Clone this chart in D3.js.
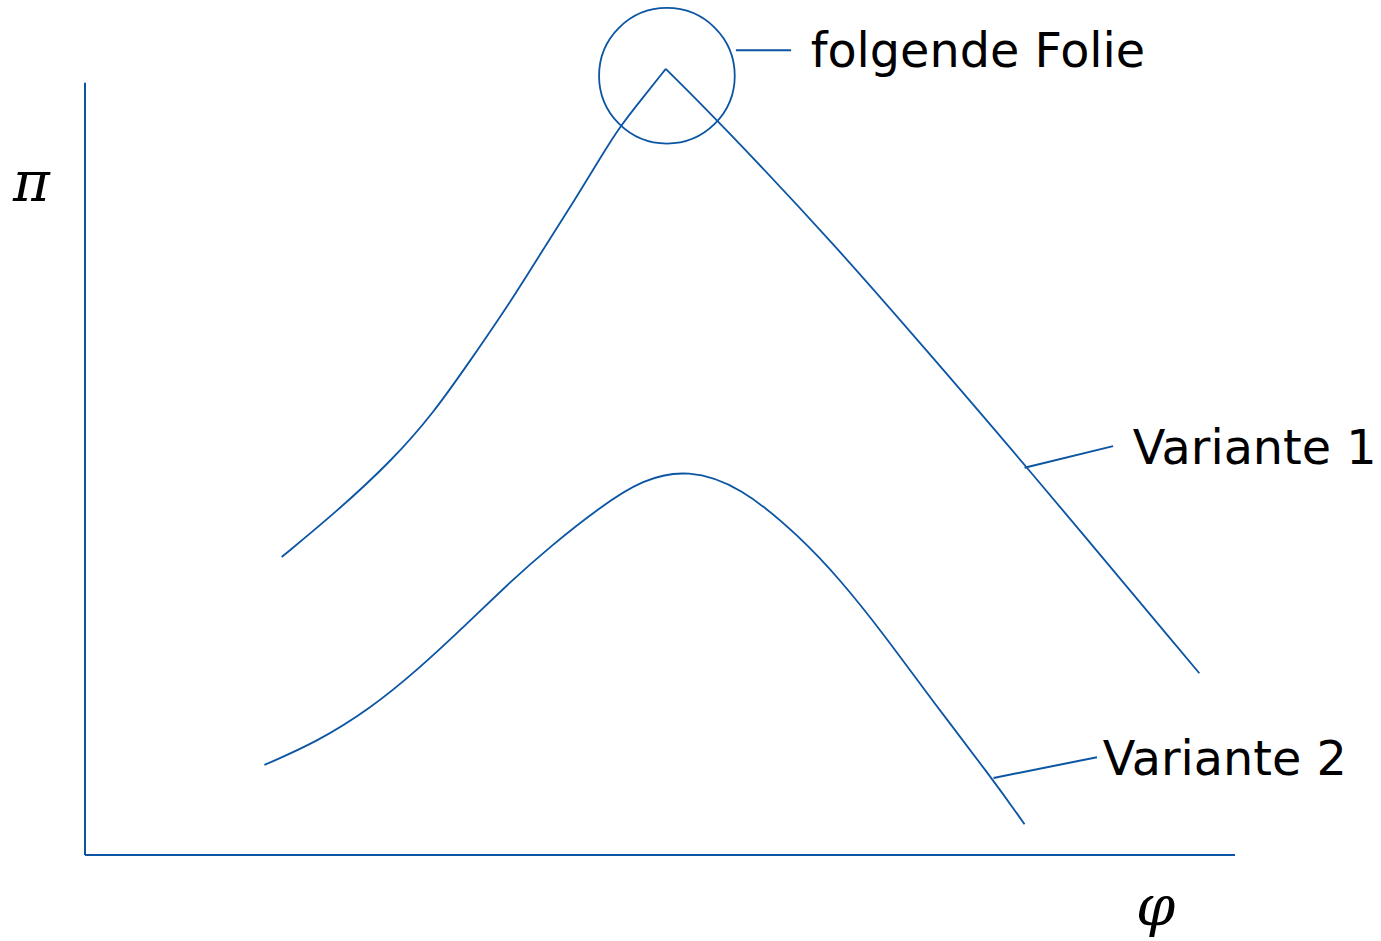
<!DOCTYPE html>
<html>
<head>
<meta charset="utf-8">
<script src="https://cdn.jsdelivr.net/npm/d3@7"></script>
<style>
    body { margin: 0; background: #fff; }
    svg { display: block; }
</style>
</head>
<body>
<div id="chart"></div>
<script>
// curve values in axis units (0..10 on both axes)
const variante1Left = [
    { x: 1.71, y: 3.87 }, { x: 2.19, y: 4.46 }, { x: 2.68, y: 5.14 },
    { x: 3.03, y: 5.74 }, { x: 3.35, y: 6.42 }, { x: 3.70, y: 7.18 },
    { x: 4.02, y: 7.95 }, { x: 4.26, y: 8.51 }, { x: 4.48, y: 9.05 },
    { x: 4.65, y: 9.46 }, { x: 4.87, y: 9.87 }, { x: 5.05, y: 10.21 }
];
const variante1Right = [
    { x: 5.05, y: 10.21 }, { x: 5.51, y: 9.53 }, { x: 6.56, y: 7.86 },
    { x: 7.33, y: 6.53 }, { x: 8.10, y: 5.20 }, { x: 9.69, y: 2.36 }
];
const variante2 = [
    { x: 1.56, y: 1.17 }, { x: 2.02, y: 1.47 }, { x: 2.48, y: 1.90 },
    { x: 2.89, y: 2.40 }, { x: 3.32, y: 3.00 }, { x: 3.70, y: 3.55 },
    { x: 4.04, y: 4.00 }, { x: 4.48, y: 4.52 }, { x: 4.85, y: 4.88 },
    { x: 5.24, y: 5.01 }, { x: 5.70, y: 4.79 }, { x: 6.22, y: 4.13 },
    { x: 6.57, y: 3.57 }, { x: 6.94, y: 2.88 }, { x: 7.37, y: 2.00 },
    { x: 7.89, y: 0.99 }, { x: 8.17, y: 0.40 }
];

// labels with their leader lines
const labels = [
    { text: "folgende Folie", x: 6.31, y: 10.23, from: { x: 5.66, y: 10.45 }, to: { x: 6.14, y: 10.45 } },
    { text: "Variante 1", x: 9.11, y: 5.08, from: { x: 8.17, y: 5.03 }, to: { x: 8.94, y: 5.31 } },
    { text: "Variante 2", x: 8.85, y: 1.04, from: { x: 7.90, y: 1.00 }, to: { x: 8.80, y: 1.27 } }
];
const peakMarker = { x: 5.06, y: 10.12, r: 0.59 };
const axisLabels = { y: "π", x: "φ" };

const blue = "#0b55a3";
const width = 1381, height = 941;

var svg = d3.select("#chart").append("svg")
    .attr("width", width)
    .attr("height", height);

var x = d3.scaleLinear().domain([0, 10]).range([85, 1235]);
var y = d3.scaleLinear().domain([0, 10]).range([855, 85]);

// axes
svg.append("line")
    .attr("x1", x(0)).attr("y1", y(0))
    .attr("x2", x(0)).attr("y2", y(10.03))
    .attr("stroke", blue).attr("stroke-width", 2);
svg.append("line")
    .attr("x1", x(0)).attr("y1", y(0))
    .attr("x2", x(10)).attr("y2", y(0))
    .attr("stroke", blue).attr("stroke-width", 2);

svg.append("text")
    .attr("x", 13).attr("y", 201)
    .attr("font-family", "'DejaVu Serif', serif")
    .attr("font-style", "italic")
    .attr("font-size", 56)
    .text(axisLabels.y);
svg.append("text")
    .attr("x", 1136).attr("y", 925)
    .attr("font-family", "'DejaVu Serif', serif")
    .attr("font-style", "italic")
    .attr("font-size", 56)
    .text(axisLabels.x);

var line = d3.line()
    .x(function (d) { return x(d.x); })
    .y(function (d) { return y(d.y); })
    .curve(d3.curveBasis);

[variante1Left, variante1Right, variante2].forEach(function (data) {
    svg.append("path")
        .attr("d", line(data))
        .attr("fill", "none")
        .attr("stroke", blue)
        .attr("stroke-width", 1.8);
});

// circle at the peak
svg.append("circle")
    .attr("cx", x(peakMarker.x))
    .attr("cy", y(peakMarker.y))
    .attr("r", x(peakMarker.r) - x(0))
    .attr("fill", "none")
    .attr("stroke", blue)
    .attr("stroke-width", 1.8);

labels.forEach(function (l) {
    svg.append("line")
        .attr("x1", x(l.from.x)).attr("y1", y(l.from.y))
        .attr("x2", x(l.to.x)).attr("y2", y(l.to.y))
        .attr("stroke", blue).attr("stroke-width", 2);
    svg.append("text")
        .attr("x", x(l.x)).attr("y", y(l.y))
        .attr("font-family", "'DejaVu Sans', Verdana, sans-serif")
        .attr("font-size", 47.7)
        .attr("fill", "#000")
        .text(l.text);
});
</script>
</body>
</html>
